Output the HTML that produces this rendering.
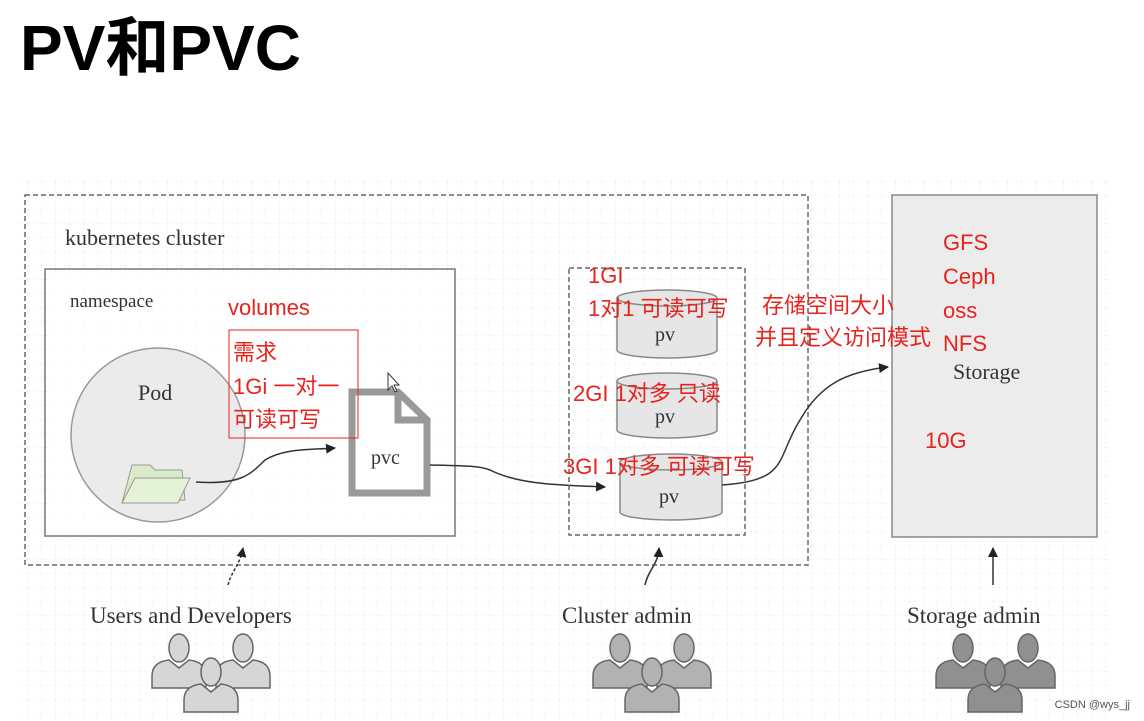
<!DOCTYPE html>
<html><head><meta charset="utf-8"><style>
html,body{margin:0;padding:0;background:#fff;}
svg{display:block}
.red{fill:#e8231e;font-family:"Liberation Sans","Noto Sans CJK SC",sans-serif;font-size:22px}
.ser{font-family:"Liberation Serif","Noto Serif CJK SC",serif;fill:#333}
</style></head><body>
<svg width="1144" height="721" viewBox="0 0 1144 721" xmlns="http://www.w3.org/2000/svg">
<defs>
<pattern id="g" width="14" height="14" patternUnits="userSpaceOnUse"><path d="M14 0V14M0 14H14" stroke="#ececec" stroke-width="1" fill="none" stroke-dasharray="2 2"/></pattern>
<marker id="ar" markerWidth="10" markerHeight="10" refX="9" refY="5" orient="auto" markerUnits="userSpaceOnUse"><path d="M0 0L10 5L0 10Z" fill="#222"/></marker>
<g id="person"><ellipse cx="0" cy="0" rx="10" ry="14" stroke="#666" stroke-width="1.5"/><path d="M-27 40V28Q-27 14 -10 12L0 20L10 12Q27 14 27 28V40Z" stroke="#666" stroke-width="1.5"/></g>
</defs>
<rect x="15" y="180" width="1095" height="541" fill="url(#g)"/>
<text x="20" y="70" font-family="'Liberation Sans','Noto Sans CJK SC',sans-serif" font-weight="bold" font-size="64" fill="#000">PV和PVC</text>
<rect x="25" y="195" width="783" height="370" fill="none" stroke="#666" stroke-width="1.5" stroke-dasharray="5 3"/>
<rect x="892" y="195" width="205" height="342" fill="#ececec" stroke="#888" stroke-width="1.5"/>
<text x="65" y="245" class="ser" font-size="22">kubernetes cluster</text>
<rect x="45" y="269" width="410" height="267" fill="#fff" fill-opacity="0.6" stroke="#777" stroke-width="1.5"/>
<text x="70" y="307" class="ser" font-size="19">namespace</text>
<circle cx="158" cy="435" r="87" fill="#ebebeb" stroke="#999" stroke-width="1.5"/>
<text x="138" y="400" class="ser" font-size="22">Pod</text>
<path d="M122 503L132 465H150L155 470H182L185 500Z" fill="#d9ecc8" stroke="#999"/>
<path d="M122 503L135 478H190L178 503Z" fill="#e4f2d6" stroke="#999"/>
<path d="M196 482C240 485 250 475 265 460C285 448 310 450 335 448" fill="none" stroke="#333" stroke-width="1.5" marker-end="url(#ar)"/>
<path d="M352 392H398L427 420V493H352Z" fill="#fff" stroke="#999" stroke-width="7"/>
<path d="M398 392V420H427" fill="none" stroke="#999" stroke-width="7"/>
<text x="371" y="464" class="ser" font-size="20">pvc</text>
<path d="M430 465C470 466 480 466 490 470C520 485 560 485 605 487" fill="none" stroke="#333" stroke-width="1.5" marker-end="url(#ar)"/>
<rect x="229" y="330" width="129" height="108" fill="none" stroke="#e8231e" stroke-width="1"/>
<text x="228" y="315" class="red">volumes</text>
<text x="233" y="360" class="red">需求</text>
<text x="233" y="394" class="red">1Gi 一对一</text>
<text x="233" y="427" class="red">可读可写</text>
<path d="M388 373v17l4-4 3 6 2-1-3-6h5z" fill="#fff" stroke="#333" stroke-width="1"/>
<rect x="569" y="268" width="176" height="267" fill="none" stroke="#666" stroke-width="1.5" stroke-dasharray="5 3"/>
<g fill="#e6e6e6" stroke="#888" stroke-width="1.5">
<path d="M617 298V350A50 8 0 0 0 717 350V298"/><ellipse cx="667" cy="298" rx="50" ry="8"/>
<path d="M617 381V430A50 8 0 0 0 717 430V381"/><ellipse cx="667" cy="381" rx="50" ry="8"/>
<path d="M620 462V512A51 8 0 0 0 722 512V462"/><ellipse cx="671" cy="462" rx="51" ry="8"/>
</g>
<text x="655" y="341" class="ser" font-size="20">pv</text>
<text x="655" y="423" class="ser" font-size="20">pv</text>
<text x="659" y="503" class="ser" font-size="20">pv</text>
<path d="M722 485C790 480 775 460 800 420C820 385 845 372 888 367" fill="none" stroke="#333" stroke-width="1.5" marker-end="url(#ar)"/>
<text x="588" y="283" class="red">1GI</text>
<text x="588" y="316" class="red">1对1 可读可写</text>
<text x="573" y="401" class="red">2GI 1对多 只读</text>
<text x="563" y="474" class="red">3GI 1对多 可读可写</text>
<text x="953" y="379" class="ser" font-size="22">Storage</text>
<text x="762" y="313" class="red">存储空间大小</text>
<text x="755" y="345" class="red">并且定义访问模式</text>
<text x="943" y="250" class="red">GFS</text>
<text x="943" y="284" class="red">Ceph</text>
<text x="943" y="318" class="red">oss</text>
<text x="943" y="351" class="red">NFS</text>
<text x="925" y="448" class="red">10G</text>
<path d="M228 585C232 570 240 565 243 548" fill="none" stroke="#333" stroke-width="1.5" stroke-dasharray="3 2" marker-end="url(#ar)"/>
<path d="M645 585C648 570 658 565 659 548" fill="none" stroke="#333" stroke-width="1.5" marker-end="url(#ar)"/>
<path d="M993 585V548" fill="none" stroke="#333" stroke-width="1.5" marker-end="url(#ar)"/>
<text x="90" y="623" class="ser" font-size="23">Users and Developers</text>
<text x="562" y="623" class="ser" font-size="23">Cluster admin</text>
<text x="907" y="623" class="ser" font-size="23">Storage admin</text>
<g fill="#d6d6d6"><use href="#person" x="179" y="648"/><use href="#person" x="243" y="648"/><use href="#person" x="211" y="672"/></g>
<g fill="#b2b2b2"><use href="#person" x="620" y="648"/><use href="#person" x="684" y="648"/><use href="#person" x="652" y="672"/></g>
<g fill="#909090"><use href="#person" x="963" y="648"/><use href="#person" x="1028" y="648"/><use href="#person" x="995" y="672"/></g>
<text x="1130" y="708" text-anchor="end" font-family="'Liberation Sans',sans-serif" font-size="11" fill="#555">CSDN @wys_jj</text>
</svg>
</body></html>
